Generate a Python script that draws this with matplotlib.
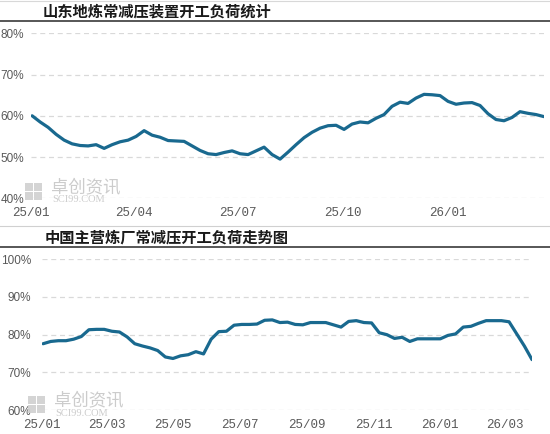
import pandas as pd
import matplotlib
matplotlib.use('Agg')
import matplotlib.pyplot as plt
import matplotlib.dates as mdates
from matplotlib.lines import Line2D
from matplotlib.patches import Rectangle
from matplotlib.ticker import FuncFormatter

plt.rcParams['font.family'] = ['Noto Sans CJK SC', 'DejaVu Sans']

# weekly series, Jan 2025 - Mar 2026
dates = pd.date_range('2025-01-02', periods=65, freq='7D')

sd_load = [60.0, 58.5, 57.2, 55.5, 54.1, 53.2, 52.8, 52.7, 53.0, 52.1,
           53.0, 53.7, 54.1, 55.0, 56.4, 55.3, 54.8, 54.0, 53.9, 53.8,
           52.7, 51.6, 50.8, 50.6, 51.1, 51.5, 50.8, 50.6, 51.5, 52.4,
           50.6, 49.5, 51.2, 53.0, 54.7, 56.0, 57.0, 57.6, 57.7, 56.7,
           58.0, 58.5, 58.3, 59.4, 60.3, 62.3, 63.3, 63.0, 64.3, 65.2,
           65.1, 64.9, 63.5, 62.8, 63.1, 63.2, 62.5, 60.5, 59.1, 58.8,
           59.6, 61.0, 60.6, 60.3, 59.8]

cn_load = [77.6, 78.2, 78.4, 78.4, 78.8, 79.5, 81.3, 81.4, 81.4, 80.9,
           80.7, 79.4, 77.6, 77.0, 76.5, 75.8, 74.1, 73.7, 74.4, 74.7,
           75.5, 74.9, 78.8, 80.8, 80.9, 82.5, 82.7, 82.7, 82.8, 83.8,
           83.9, 83.2, 83.3, 82.7, 82.6, 83.2, 83.2, 83.2, 82.6, 82.0,
           83.5, 83.7, 83.2, 83.1, 80.5, 80.0, 79.0, 79.3, 78.2, 78.9,
           78.9, 78.9, 78.9, 79.8, 80.2, 82.0, 82.2, 83.0, 83.7, 83.7,
           83.7, 83.4, 80.2, 77.0, 73.4]

top_title = '山东地炼常减压装置开工负荷统计'
bottom_title = '中国主营炼厂常减压开工负荷走势图'
top_yticks = [40, 50, 60, 70, 80]
bottom_yticks = [60, 70, 80, 90, 100]
top_xticks = pd.date_range('2025-01-01', '2026-01-01', freq='3MS')
bottom_xticks = pd.date_range('2025-01-01', '2026-03-01', freq='2MS')

LINE_C = '#19698f'
GRID_C = '#d9d9d9'
TICK_C = '#595959'
W, H = 550, 434

fig = plt.figure(figsize=(W / 100, H / 100), dpi=100)


def fx(px):
    return px / W


def fy(py):
    return 1 - py / H


def style_axes(ax, yticks, xticks, ypad):
    ax.set_yticks(yticks)
    ax.set_ylim(yticks[0], yticks[-1])
    ax.set_xticks(xticks)
    ax.xaxis.set_major_formatter(mdates.DateFormatter('%y/%m'))
    ax.yaxis.set_major_formatter(FuncFormatter(lambda v, p: f'{v:.0f}%'))
    ax.grid(axis='y', color=GRID_C, linestyle=(0, (4, 3)), linewidth=0.9)
    ax.set_axisbelow(True)
    for s in ax.spines.values():
        s.set_visible(False)
    ax.tick_params(length=0, colors=TICK_C)
    ax.tick_params(axis='x', pad=6, labelsize=9)
    ax.tick_params(axis='y', pad=ypad, labelsize=8.5)
    for lab in ax.get_xticklabels():
        lab.set_family(['Liberation Mono', 'DejaVu Sans'])
    for lab in ax.get_yticklabels():
        lab.set_family(['Liberation Sans Narrow', 'Liberation Sans'])
    ax.set_xlim(pd.Timestamp('2025-01-01'), pd.Timestamp('2026-03-26'))


# top panel
ax1 = fig.add_axes([fx(31), fy(198.3), fx(513), (198.3 - 33.3) / H])
ax1.plot(dates, sd_load, color=LINE_C, linewidth=2.3, solid_capstyle='round')
style_axes(ax1, top_yticks, top_xticks, 5)

# bottom panel
ax2 = fig.add_axes([fx(42), fy(410.3), fx(490), (410.3 - 259) / H])
ax2.plot(dates, cn_load, color=LINE_C, linewidth=2.3, solid_capstyle='round')
style_axes(ax2, bottom_yticks, bottom_xticks, 8)

# titles and rules
fig.text(fx(43), fy(12), top_title, fontsize=11, fontweight='bold',
         va='center', ha='left', color='#1a1a1a')
fig.text(fx(45), fy(238), bottom_title, fontsize=11, fontweight='bold',
         va='center', ha='left', color='#1a1a1a')
for yy, c, lw in [(21, '#3a3a3a', 1.2), (247, '#3a3a3a', 1.2),
                  (226, '#d0d0d0', 0.8), (1, '#d8d8d8', 0.8)]:
    fig.add_artist(Line2D([0, 1], [fy(yy), fy(yy)], color=c, linewidth=lw))


# watermark
def watermark(x0, y0):
    for dx, dy in [(0, 0), (9, 0), (0, 9), (9, 9)]:
        fig.add_artist(Rectangle((fx(x0 + dx), fy(y0 + dy + 8)), fx(8), 8 / H,
                                 color='#d0d0d0', alpha=0.9, linewidth=0))
    fig.text(fx(x0 + 26), fy(y0 + 4), '卓创资讯', fontsize=12.5, color='#cccccc',
             va='center', ha='left')
    fig.text(fx(x0 + 27), fy(y0 + 17), 'SCI99.COM', fontsize=7.5, color='#cccccc',
             va='center', ha='left', family='Liberation Serif')


watermark(25, 183)
watermark(28, 396)

fig.savefig('out.png', dpi=100)
